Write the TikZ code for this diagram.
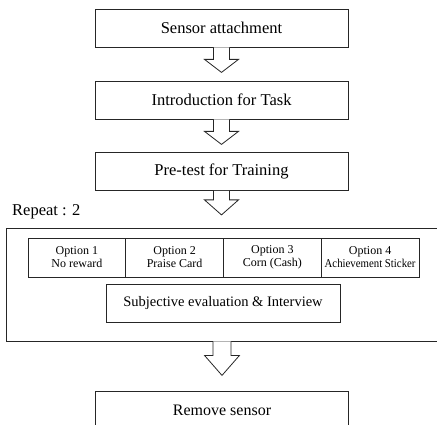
\documentclass[tikz,border=0pt]{standalone}
\usepackage{fontspec}
\setmainfont{Liberation Serif}
\usetikzlibrary{calc}
\newcommand\blockarrow[3]{\draw[blockarr] ($#1+(-8,0)$) -- ++(0,#2) -- ++(-9,0) -- ++(17,#3) -- ++(17,-#3) -- ++(-9,0) -- ++(0,-#2);}
\begin{document}
\begin{tikzpicture}[x=1pt,y=-1pt,
  line/.style={draw=black!85, line width=0.8pt},
  mainbox/.style={line, rectangle, minimum width=253pt, minimum height=38pt, inner sep=0pt, font=\fontsize{16.5}{18}\selectfont},
  optbox/.style={line, rectangle, minimum width=97.75pt, minimum height=39pt, inner sep=0pt, align=center, font=\fontsize{12}{13}\selectfont},
  blockarr/.style={line, fill=white, line join=miter},
  lbl/.style={inner sep=0pt, font=\fontsize{16.5}{18}\selectfont}]
\useasboundingbox (0,0) rectangle (437,425);
\clip (0,0) rectangle (437,425);
\node[mainbox] (b1) at (221.5,28) {Sensor attachment};
\node[mainbox] (b2) at (221.5,100) {Introduction for Task};
\node[mainbox] (b3) at (221.5,171.5) {Pre-test for Training};
\node[lbl, anchor=west] (rep) at (12,212) {Repeat : 2};
\node[line, rectangle, minimum width=440pt, minimum height=113pt, inner sep=0pt] (frame) at (226,284.5) {};
\node[optbox] (o1) at (76.9,257.5) {Option 1\\No reward};
\node[optbox] (o2) at (174.6,257.5) {Option 2\\Praise Card};
\node[optbox] (o3) at (272.4,257.5) {Option 3\\Corn (Cash)};
\node[optbox] (o4) at (370.1,257.5) {Option 4\\\scalebox{0.9}[1]{Achievement Sticker}};
\node[line, rectangle, minimum width=234pt, minimum height=38pt, inner sep=0pt, font=\fontsize{14.5}{16}\selectfont] (sub) at (223,303) {Subjective evaluation \& Interview};
\node[mainbox, font=\fontsize{16}{18}\selectfont] (b5) at (222,410) {Remove sensor};
\blockarrow{(b1.south)}{12}{13}
\blockarrow{(b2.south)}{12}{13}
\blockarrow{(b3.south)}{9}{15}
\draw[blockarr] ($(b5.north |- frame.south)+(-9,0)$) -- ++(0,14) -- ++(-8.5,0) -- ++(17.5,20) -- ++(17.5,-20) -- ++(-8.5,0) -- ++(0,-14);
\end{tikzpicture}
\end{document}
